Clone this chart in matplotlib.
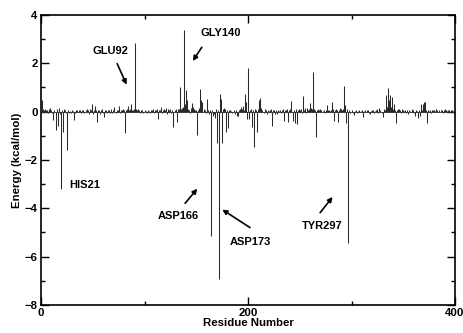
"""
Per-residue interaction energy (impulse plot, xmgrace style)
Output: out.png
"""
import matplotlib.pyplot as plt
import numpy as np

plt.rcParams["font.family"] = ["Liberation Sans", "DejaVu Sans"]
plt.rcParams["font.weight"] = "bold"

# ── Data ───────────────────────────────────────────────────────────────────────
energy = [
    0.48, 0.10, 0.05, 0.12, 0.08, 0.06, -0.05, 0.10, 0.15, 0.05,      # 1-10
    -0.05, -0.35, 0.08, -0.75, 0.10, -0.60, 0.15, -0.10, -3.20, 0.05,  # 11-20
    -0.85, 0.10, 0.05, -0.05, -1.58, 0.05, -0.05, 0.03, -0.05, 0.05,   # 21-30
    0.03, -0.35, -0.05, 0.05, 0.05, -0.03, 0.06, 0.05, -0.05, 0.08,    # 31-40
    0.05, -0.05, 0.06, 0.10, 0.08, -0.08, 0.10, 0.05, 0.30, -0.10,     # 41-50
    0.05, 0.22, 0.08, -0.42, 0.05, 0.05, -0.08, 0.05, 0.10, -0.05,     # 51-60
    -0.23, 0.05, 0.08, -0.05, 0.05, 0.05, -0.05, 0.10, -0.05, 0.05,    # 61-70
    0.18, -0.05, 0.05, 0.08, 0.22, -0.05, 0.05, 0.06, 0.10, 0.05,      # 71-80
    -0.87, 0.05, 0.10, 0.22, 0.05, 0.10, 0.30, 0.05, 0.08, 0.10,       # 81-90
    2.85, 0.12, 0.05, 0.10, 0.06, -0.05, 0.05, 0.05, -0.05, 0.05,      # 91-100
    0.03, -0.05, 0.05, 0.03, -0.05, 0.05, 0.05, 0.10, -0.05, 0.05,     # 101-110
    0.05, 0.10, -0.32, 0.05, 0.08, 0.20, -0.05, 0.05, 0.10, 0.05,      # 111-120
    0.15, -0.08, 0.10, 0.05, 0.12, -0.05, 0.08, -0.62, 0.05, 0.10,     # 121-130
    -0.42, 0.10, 0.12, 1.00, 0.10, 0.15, 0.20, 3.37, 0.30, 0.90,       # 131-140
    0.48, 0.10, 0.05, -0.05, 0.15, 0.37, 0.20, 0.10, 0.05, 0.08,       # 141-150
    -0.96, 0.05, 0.15, 0.92, 0.48, 0.41, 0.10, 0.05, -0.05, 0.52,      # 151-160
    0.05, -0.10, 0.05, -5.14, 0.05, -0.20, -0.10, -0.25, 0.10, -1.30,  # 161-170
    0.05, -6.93, 0.73, 0.51, -1.30, 0.10, 0.15, 0.10, -0.83, 0.05,     # 171-180
    -0.67, 0.05, 0.05, 0.03, -0.05, 0.05, -0.10, 0.05, -0.18, -0.20,   # 181-190
    0.05, 0.10, 0.18, 0.10, 0.22, 0.05, 0.73, 0.41, -0.32, 1.80,       # 191-200
    -0.30, 0.05, 0.10, -0.63, 0.05, -1.47, 0.10, 0.05, -0.85, 0.10,    # 201-210
    0.48, 0.55, 0.15, 0.05, -0.05, 0.10, 0.05, -0.08, 0.05, 0.03,      # 211-220
    0.05, 0.10, -0.60, 0.05, 0.05, -0.08, 0.05, -0.10, 0.05, 0.03,     # 221-230
    0.05, -0.05, 0.05, 0.10, -0.38, 0.05, 0.05, 0.10, -0.41, 0.05,     # 231-240
    0.10, 0.45, -0.40, 0.05, -0.48, 0.10, -0.50, 0.05, 0.10, 0.05,     # 241-250
    0.10, -0.05, 0.65, 0.05, 0.15, -0.05, 0.15, 0.05, 0.10, 0.34,      # 251-260
    0.15, 0.10, 1.65, 0.10, 0.05, -1.06, 0.05, 0.10, 0.05, 0.12,       # 261-270
    0.05, 0.03, 0.05, -0.05, 0.05, 0.28, 0.05, 0.05, 0.03, 0.05,       # 271-280
    0.40, 0.10, -0.37, 0.05, 0.10, 0.05, -0.41, 0.05, 0.15, 0.10,      # 281-290
    0.05, 0.10, 1.05, 0.28, -0.45, 0.10, -5.44, 0.05, -0.05, 0.05,     # 291-300
    -0.05, -0.15, 0.03, 0.05, -0.05, 0.03, 0.05, -0.03, 0.03, 0.05,    # 301-310
    -0.23, 0.03, 0.05, -0.03, 0.05, 0.08, -0.05, -0.10, 0.03, 0.05,    # 311-320
    0.08, -0.05, 0.03, 0.05, 0.10, -0.05, 0.15, 0.05, -0.05, -0.22,    # 321-330
    0.10, 0.05, 0.69, 0.20, 0.96, 0.50, 0.69, 0.20, 0.62, 0.10,        # 331-340
    0.32, 0.05, -0.45, 0.05, 0.10, 0.10, 0.05, -0.05, 0.10, 0.05,      # 341-350
    0.03, 0.05, -0.05, 0.05, -0.10, 0.05, 0.03, 0.10, 0.05, -0.05,     # 351-360
    -0.20, 0.05, 0.03, -0.28, 0.05, -0.20, 0.30, 0.05, 0.32, 0.40,     # 361-370
    0.41, 0.05, -0.48, 0.05, 0.03, 0.05, -0.05, 0.05, 0.08, 0.05,      # 371-380
    0.03, 0.10, 0.05, -0.03, 0.05, 0.08, 0.05, -0.05, 0.05, 0.10,      # 381-390
    0.05, 0.03, 0.05, 0.08, -0.03, 0.05, 0.05, 0.03,                   # 391-398
]
residue = np.arange(1, len(energy) + 1)

# labelled hot spots: (text, text x, text y, arrow start, arrow end or None)
labels      = ["GLU92", "GLY140", "HIS21", "ASP166", "ASP173", "TYR297"]
label_xy    = [(66.7, 2.51), (173.4, 3.25), (42.0, -3.05),
               (132.4, -4.31), (202.4, -5.38), (272.0, -4.75)]
arrow_from  = [(72.5, 2.09), (156.8, 2.76), None,
               (137.5, -3.88), (204.2, -4.86), (268.0, -4.27)]
arrow_to    = [(83.8, 1.01), (145.2, 2.00), None,
               (152.7, -3.10), (172.9, -3.99), (283.4, -3.44)]

# ── Figure ─────────────────────────────────────────────────────────────────────
fig = plt.figure(figsize=(4.64, 3.33), dpi=100)
ax = fig.add_axes([0.0884, 0.0841, 0.8922, 0.8709])

ax.hlines(0, residue[0], residue[-1], color="#333333", lw=0.6)
ax.vlines(residue, 0, energy, color="#2a2a2a", lw=0.75)

for txt, (tx, ty), a0, a1 in zip(labels, label_xy, arrow_from, arrow_to):
    ax.text(tx, ty, txt, ha="center", va="center", fontsize=8,
            fontweight="bold")
    if a0 is not None:
        ax.annotate("", xy=a1, xytext=a0,
                    arrowprops=dict(arrowstyle="-|>", color="black",
                                    lw=1.2, mutation_scale=7))

ax.set_xlim(0, 400)
ax.set_ylim(-8, 4)
ax.set_xticks([0, 200, 400])
ax.set_xticks([100, 300], minor=True)
ax.set_yticks([-8, -6, -4, -2, 0, 2, 4])
ax.set_yticks([-7, -5, -3, -1, 1, 3], minor=True)
ax.tick_params(which="both", direction="in", top=True, right=True,
               width=1.0, labelsize=8.2, pad=2.5)
ax.tick_params(which="major", length=6)
ax.tick_params(which="minor", length=3)
for s in ax.spines.values():
    s.set_linewidth(1.2)

ax.set_xlabel("Residue Number", fontsize=8.2, fontweight="bold", labelpad=0)
ax.set_ylabel("Energy (kcal/mol)", fontsize=8.2, fontweight="bold", labelpad=2)

fig.savefig("out.png", dpi=100, facecolor="white")
